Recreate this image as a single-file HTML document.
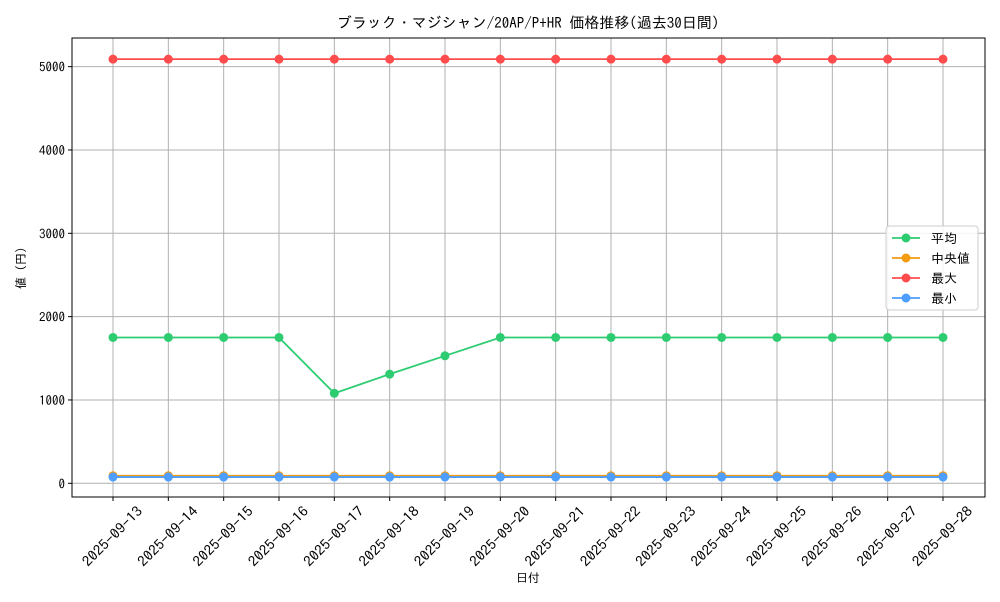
<!DOCTYPE html>
<html><head><meta charset="utf-8"><style>
body{margin:0;background:#fff;font-family:"IPAGothic","Noto Sans CJK JP",sans-serif}
text{font-family:"IPAGothic","Noto Sans CJK JP",sans-serif;fill:#000}
</style></head><body>
<svg id="c" width="1000" height="600"></svg>
<script>
const dates=["2025-09-13","2025-09-14","2025-09-15","2025-09-16","2025-09-17","2025-09-18","2025-09-19","2025-09-20","2025-09-21","2025-09-22","2025-09-23","2025-09-24","2025-09-25","2025-09-26","2025-09-27","2025-09-28"];
const avgVals=[1750,1750,1750,1750,1080,1310,1530,1750,1750,1750,1750,1750,1750,1750,1750,1750];
const medVals=[90,90,90,90,90,90,90,90,90,90,90,90,90,90,90,90];
const maxVals=[5090,5090,5090,5090,5090,5090,5090,5090,5090,5090,5090,5090,5090,5090,5090,5090];
const minVals=[75,75,75,75,75,75,75,75,75,75,75,75,75,75,75,75];
const yTicks=[0,1000,2000,3000,4000,5000];
const NS="http://www.w3.org/2000/svg";
const svg=document.getElementById('c');
const L=72,R=985,T=38,B=497;
const x=i=>113+i*(943-113)/(dates.length-1);
const y=v=>483.3-v*0.08333;
function el(t,a,p){const e=document.createElementNS(NS,t);for(const k in a)e.setAttribute(k,a[k]);(p||svg).appendChild(e);return e;}
dates.forEach((d,i)=>{const g=el('line',{x1:x(i),x2:x(i),y1:T,y2:B,stroke:'#b0b0b0','stroke-width':1});


el('line',{x1:x(i),x2:x(i),y1:B,y2:B+4,stroke:'#000'});
const cx=x(i),cy=541;
const t=el('text',{x:cx,y:cy,'font-size':14,'text-anchor':'middle',textLength:78,lengthAdjust:'spacingAndGlyphs',transform:`rotate(-45 ${cx} ${cy-4})`});t.textContent=d;

});
yTicks.forEach(v=>{const g=el('line',{x1:L,x2:R,y1:y(v),y2:y(v),stroke:'#b0b0b0','stroke-width':1});


el('line',{x1:L-4,x2:L,y1:y(v),y2:y(v),stroke:'#000'});
const t=el('text',{x:L-7,y:y(v)+5,'font-size':13,'text-anchor':'end'});t.textContent=v;

});
const fr=el('rect',{x:L,y:T,width:R-L,height:B-T,fill:'none',stroke:'#000','stroke-width':1});


const series=[["avg",avgVals,"#2ecc71","平均"],["median",medVals,"#f39c12","中央値"],["max",maxVals,"#ff4d4d","最大"],["min",minVals,"#4d9eff","最小"]];
series.forEach(([n,vals,c])=>{const g=el('g',{});


el('polyline',{points:vals.map((v,i)=>x(i)+','+y(v)).join(' '),fill:'none',stroke:c,'stroke-width':1.8},g);
vals.forEach((v,i)=>{const p=el('circle',{cx:x(i),cy:y(v),r:4.5,fill:c},g);

});});
const lg=el('g',{});


el('rect',{x:886,y:226,width:92,height:84,rx:3,fill:'#fff','fill-opacity':0.85,stroke:'#ccc'},lg);
series.forEach(([n,vals,c,lab],k)=>{const yy=238+k*20;
el('line',{x1:892,x2:920,y1:yy,y2:yy,stroke:c,'stroke-width':1.8},lg);
el('circle',{cx:906,cy:yy,r:4.5,fill:c},lg);
const t=el('text',{x:931,y:yy+5,'font-size':13},lg);t.textContent=lab;

});
const tt=el('text',{x:528,y:28,'font-size':15,'text-anchor':'middle'});tt.textContent="ブラック・マジシャン/20AP/P+HR 価格推移(過去30日間)";


const xt=el('text',{x:528,y:582,'font-size':12,'text-anchor':'middle'});xt.textContent="日付";


const yt=el('text',{x:25,y:268,'font-size':12,'text-anchor':'middle',transform:'rotate(-90 25 268)'});yt.textContent="値 (円)";


</script>
</body></html>
